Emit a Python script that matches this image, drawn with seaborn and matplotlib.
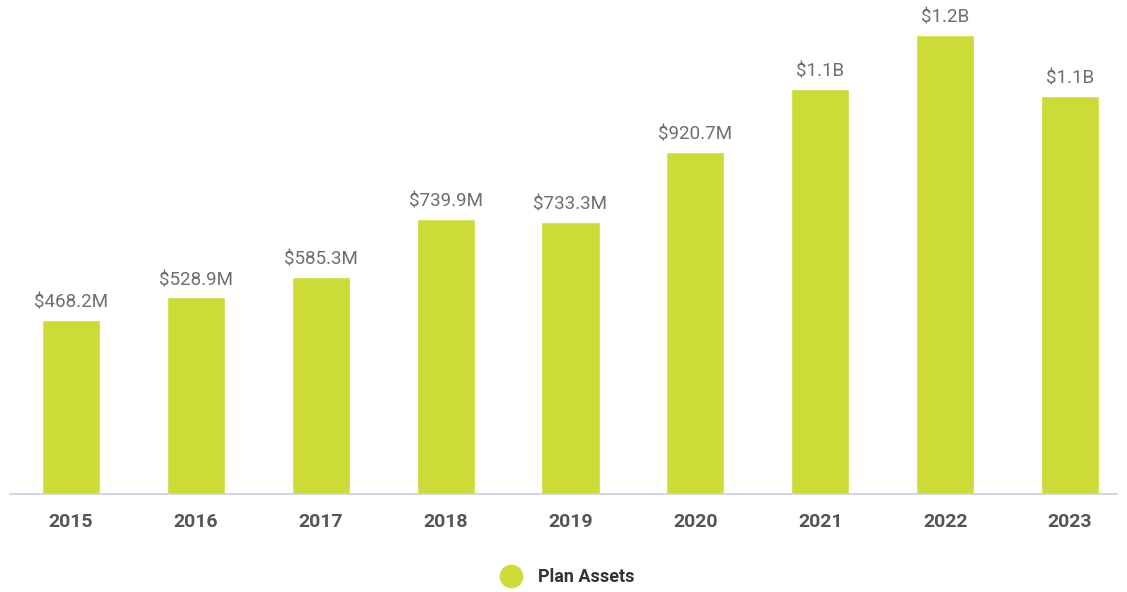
import matplotlib
matplotlib.use('Agg')
import matplotlib.pyplot as plt
import seaborn as sns
import pandas as pd
from matplotlib.lines import Line2D

years = ['2015', '2016', '2017', '2018', '2019', '2020', '2021', '2022', '2023']
plan_assets = [468.2, 528.9, 585.3, 739.9, 733.3, 920.7, 1089.6, 1235.0, 1071.0]  # $M
series_name = 'Plan Assets'

BAR = '#cddb37'
TEXT = '#6e6e6e'
TICK = '#555555'


def fmt(v):
    if v >= 1000:
        return f'${v / 1000:.1f}B'
    return f'${v:.1f}M'


sns.set_theme(style='white')
plt.rcParams['font.family'] = ['Roboto', 'DejaVu Sans']

df = pd.DataFrame({'year': years, 'value': plan_assets})

fig = plt.figure(figsize=(11.27, 5.92), dpi=100)
ax = fig.add_axes([10 / 1127, 98 / 592, 1107 / 1127, 483 / 592])

sns.barplot(data=df, x='year', y='value', color=BAR, saturation=1,
            width=0.465, ax=ax)

ax.bar_label(ax.containers[0], labels=[fmt(v) for v in plan_assets],
             padding=6, fontsize=13.5, color=TEXT)

ax.set_xlim(-0.488, 8.376)
ax.set_ylim(0, 1300)
ax.set_xlabel('')
ax.set_ylabel('')
ax.set_yticks([])
for s in ['top', 'right', 'left']:
    ax.spines[s].set_visible(False)
ax.spines['bottom'].set_color('#c8d0e0')
ax.spines['bottom'].set_linewidth(1.2)
ax.tick_params(axis='x', length=0, pad=14, labelsize=14, labelcolor=TICK)
for t in ax.get_xticklabels():
    t.set_fontweight('bold')

handle = Line2D([], [], marker='o', linestyle='', markersize=16,
                markerfacecolor=BAR, markeredgecolor=BAR)
fig.legend([handle], [series_name], loc='center', bbox_to_anchor=(0.5, 1 - 577 / 592),
           frameon=False, handletextpad=0.5,
           prop={'weight': 'bold', 'size': 13}, labelcolor='#333333')

fig.savefig('out.png', dpi=100)
